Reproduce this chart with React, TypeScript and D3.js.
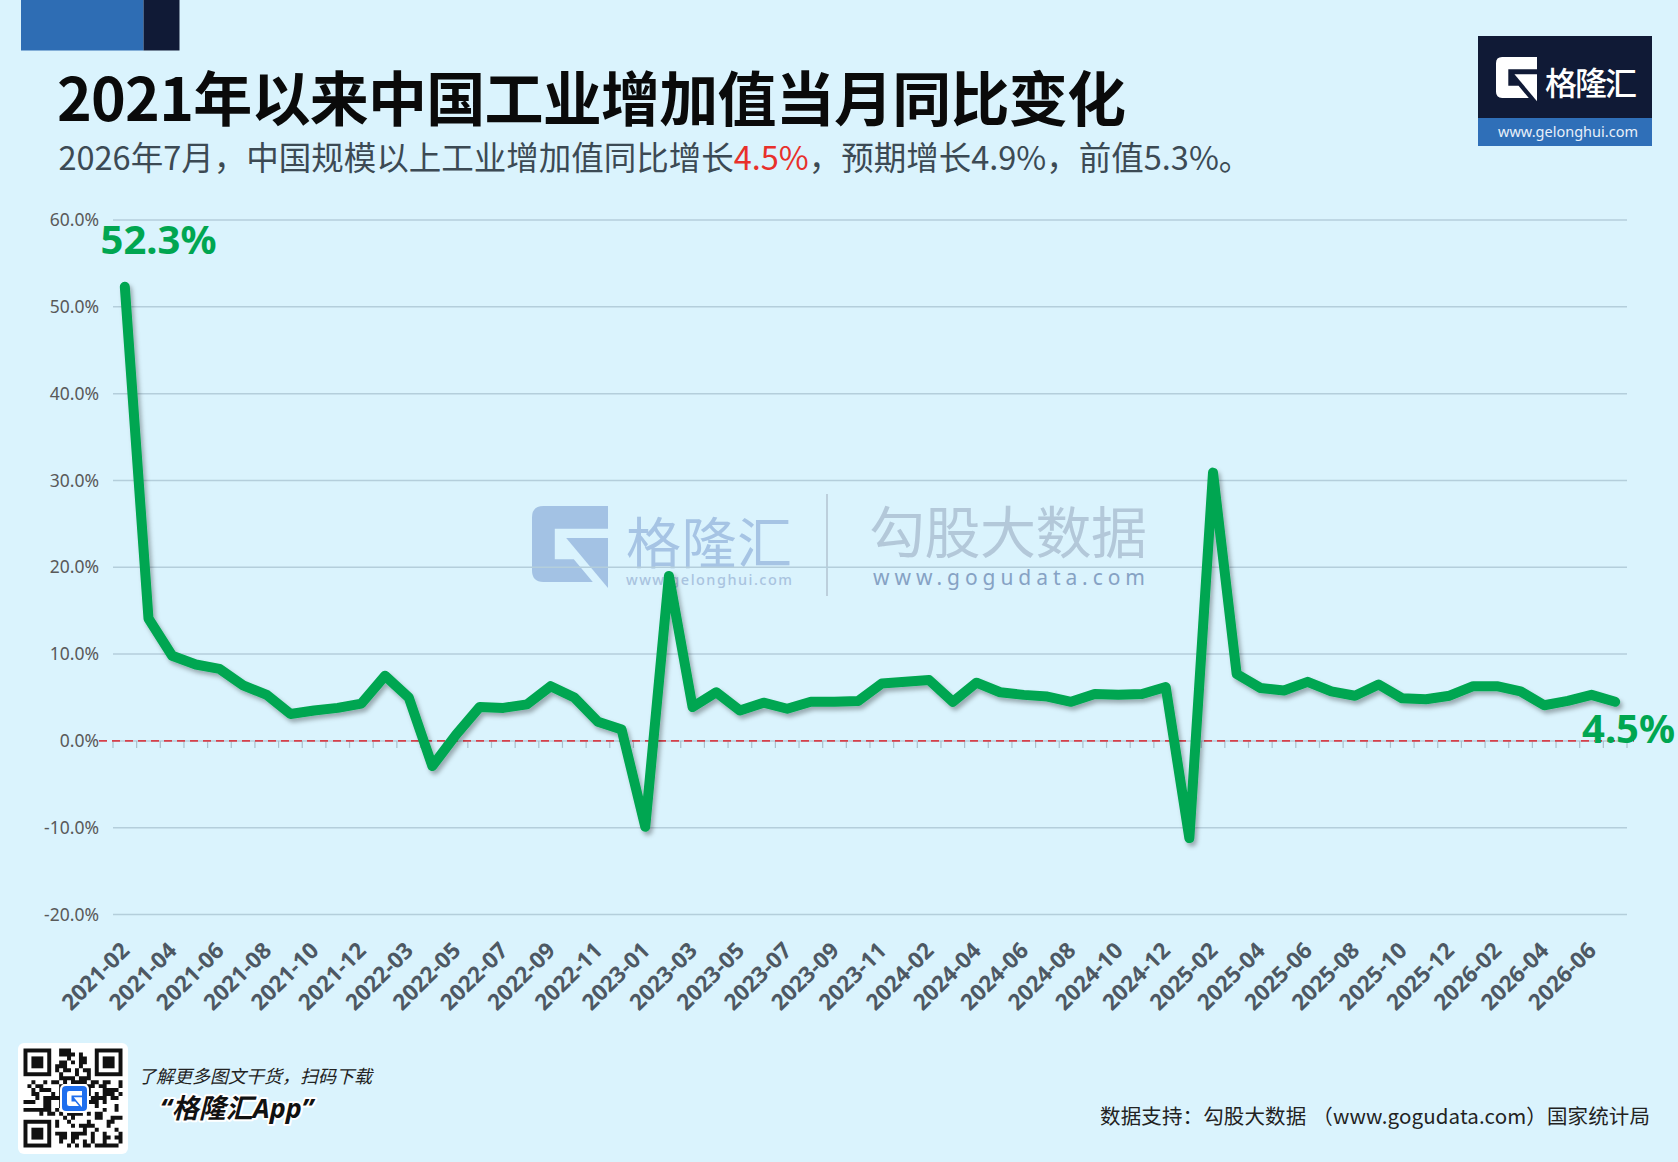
import { useEffect } from 'react';
import * as d3 from 'd3';

const W = 1678;
const H = 1162;

// monthly categories (China reports Jan-Feb combined in some years)
const months = [
  '2021-02', '2021-03', '2021-04', '2021-05', '2021-06', '2021-07', '2021-08', '2021-09', '2021-10', '2021-11', '2021-12',
  '2022-02', '2022-03', '2022-04', '2022-05', '2022-06', '2022-07', '2022-08', '2022-09', '2022-10', '2022-11', '2022-12',
  '2023-01', '2023-02', '2023-03', '2023-04', '2023-05', '2023-06', '2023-07', '2023-08', '2023-09', '2023-10', '2023-11', '2023-12',
  '2024-02', '2024-03', '2024-04', '2024-05', '2024-06', '2024-07', '2024-08', '2024-09', '2024-10', '2024-11', '2024-12',
  '2025-01', '2025-02', '2025-03', '2025-04', '2025-05', '2025-06', '2025-07', '2025-08', '2025-09', '2025-10', '2025-11', '2025-12',
  '2026-01', '2026-02', '2026-03', '2026-04', '2026-05', '2026-06', '2026-07',
];

// 工业增加值当月同比 (%)
const growth = [
  52.3, 14.1, 9.8, 8.8, 8.3, 6.4, 5.3, 3.1, 3.5, 3.8, 4.3,
  7.5, 5.0, -2.9, 0.7, 3.9, 3.8, 4.2, 6.3, 5.0, 2.2, 1.3,
  -9.9, 19.0, 3.9, 5.6, 3.5, 4.4, 3.7, 4.5, 4.5, 4.6, 6.6, 6.8,
  7.0, 4.5, 6.7, 5.6, 5.3, 5.1, 4.5, 5.4, 5.3, 5.4, 6.2,
  -11.2, 30.9, 7.7, 6.1, 5.8, 6.8, 5.7, 5.2, 6.5, 4.9, 4.8, 5.2,
  6.3, 6.3, 5.7, 4.1, 4.6, 5.3, 4.5,
];

const yTicks = [-20, -10, 0, 10, 20, 30, 40, 50, 60];

const CJK = '"Noto Sans CJK SC", "Noto Sans", sans-serif';
const LATIN = '"Noto Sans", "Noto Sans CJK SC", sans-serif';

const GREEN = '#00a651';
const BG = '#daf3fd';

// G logo shape in a unit box
const G_OUTER = 'M0.15,0 H1 V0.3 H0.3 V0.7 H0.55 L0.8,1 H0.15 Q0,1 0,0.85 V0.15 Q0,0 0.15,0 Z';
const G_WEDGE = 'M0.45,0.42 H1 V1.08 Z';

const GLogo = ({ x, y, size, fill }: { x: number; y: number; size: number; fill: string }) => (
  <g transform={`translate(${x},${y}) scale(${size})`} fill={fill}>
    <path d={G_OUTER} />
    <path d={G_WEDGE} />
  </g>
);

// decorative QR-ish block
const QR = ({ x, y, size }: { x: number; y: number; size: number }) => {
  const n = 25;
  const m = size / n;
  const inFinder = (r: number, c: number) =>
    (r < 8 && c < 8) || (r < 8 && c >= n - 8) || (r >= n - 8 && c < 8);
  let d = '';
  for (let r = 0; r < n; r++) {
    for (let c = 0; c < n; c++) {
      if (inFinder(r, c)) continue;
      let h = Math.imul(r + 11, 374761393) + Math.imul(c + 7, 668265263);
      h = Math.imul(h ^ (h >>> 13), 1274126177);
      if (((h >>> 15) & 3) < 2) d += `M${c * m},${r * m}h${m}v${m}h${-m}Z`;
    }
  }
  const finder = (fx: number, fy: number) => (
    <g key={`${fx}-${fy}`} transform={`translate(${fx * m},${fy * m})`}>
      <rect x={m / 2} y={m / 2} width={6 * m} height={6 * m} fill="none" stroke="#111" strokeWidth={m} />
      <rect x={2 * m} y={2 * m} width={3 * m} height={3 * m} fill="#111" />
    </g>
  );
  return (
    <g transform={`translate(${x},${y})`}>
      <path d={d} fill="#111" />
      {finder(0, 0)}
      {finder(n - 7, 0)}
      {finder(0, n - 7)}
    </g>
  );
};

export default function App() {
  useEffect(() => {
    document.body.style.margin = '0';
  }, []);

  const x = d3.scaleBand<string>().domain(months).range([113, 1627]);
  const y = d3.scaleLinear().domain([-20, 60]).range([914.5, 220]);
  const cx = (m: string) => (x(m) ?? 0) + x.bandwidth() / 2;

  const line = d3
    .line<number>()
    .x((_, i) => cx(months[i]))
    .y((d) => y(d));

  const tickXs = [...months.map((m) => x(m) ?? 0), x.range()[1]];
  const labelMonths = months.filter((_, i) => i % 2 === 0);
  const [x0, x1] = x.range();

  const last = growth.length - 1;

  return (
    <svg width={W} height={H} style={{ display: 'block' }}>
      <defs>
        <filter id="shadow" x="-5%" y="-5%" width="110%" height="120%">
          <feDropShadow dx="2.5" dy="3.5" stdDeviation="2" floodColor="#000" floodOpacity="0.3" />
        </filter>
      </defs>
      <rect width={W} height={H} fill={BG} />

      {/* top-left bars */}
      <rect x={21} y={0} width={122.5} height={50.5} fill="#2e6db4" />
      <rect x={143.5} y={0} width={36} height={50.5} fill="#101a36" />

      {/* title */}
      <text x={57} y={121} fontFamily={CJK} fontSize={59} fontWeight={700} fill="#0a0a0a"
        textLength={1069} lengthAdjust="spacing">
        2021年以来中国工业增加值当月同比变化
      </text>
      <text x={58.5} y={170} fontFamily={CJK} fontSize={32.5} fill="#3c4a54">
        2026年7月，中国规模以上工业增加值同比增长<tspan fill="#e8302b">4.5%</tspan>，预期增长4.9%，前值5.3%。
      </text>

      {/* top-right logo */}
      <rect x={1478} y={36} width={174} height={82} fill="#101a36" />
      <rect x={1478} y={118} width={174} height={28} fill="#2f6fb8" />
      <GLogo x={1496} y={57} size={41} fill="#ffffff" />
      <text x={1545} y={95} fontFamily={CJK} fontSize={32} fontWeight={500} fill="#ffffff"
        textLength={92} lengthAdjust="spacing">格隆汇</text>
      <text x={1498} y={137} fontFamily={LATIN} fontSize={14.5} fill="#e8f0fa"
        textLength={140} lengthAdjust="spacing">www.gelonghui.com</text>

      {/* watermark */}
      <g>
        <GLogo x={532} y={506} size={76} fill="#a3c2e4" />
        <text x={626} y={563} fontFamily={CJK} fontSize={55} fill="#a6c4e4"
          textLength={166} lengthAdjust="spacing">格隆汇</text>
        <text x={626} y={585} fontFamily={LATIN} fontSize={14.5} fontWeight={500} fill="#a9c3df"
          textLength={166} lengthAdjust="spacing">www.gelonghui.com</text>
        <line x1={827} x2={827} y1={494} y2={596} stroke="#bccfdc" strokeWidth={2} />
        <text x={869} y={553} fontFamily={CJK} fontSize={56} fill="#b3c8d9"
          textLength={278} lengthAdjust="spacing">勾股大数据</text>
        <text x={873} y={585} fontFamily={LATIN} fontSize={21} fill="#86a2c4"
          textLength={272} lengthAdjust="spacing">www.gogudata.com</text>
      </g>

      {/* gridlines */}
      {yTicks.map((t) => (
        <line key={t} x1={x0} x2={x1} y1={y(t)} y2={y(t)} stroke="#b4cedb" strokeWidth={1.5} />
      ))}
      {yTicks.map((t) => (
        <text key={`l${t}`} x={99} y={y(t)} dy="0.35em" textAnchor="end" fontFamily={LATIN}
          fontSize={17.5} fill="#595959">
          {`${t.toFixed(1)}%`}
        </text>
      ))}

      {/* zero line and ticks */}
      {tickXs.map((tx, i) => (
        <line key={i} x1={tx} x2={tx} y1={y(0)} y2={y(0) + 7} stroke="#a9bfcc" strokeWidth={1.2} />
      ))}
      <line x1={99} x2={1634} y1={y(0)} y2={y(0)} stroke="#d6404a" strokeWidth={1.6} strokeDasharray="8 5" />

      {/* x labels */}
      {labelMonths.map((m) => (
        <text key={m} transform={`translate(${cx(m) + 6},952) rotate(-45)`} textAnchor="end"
          fontFamily={LATIN} fontSize={22.5} fontWeight={700} fill="#4d5863">
          {m}
        </text>
      ))}

      {/* series */}
      <path d={line(growth) ?? ''} fill="none" stroke={GREEN} strokeWidth={10}
        strokeLinejoin="round" strokeLinecap="round" filter="url(#shadow)" />

      <text x={100.5} y={254} fontFamily={LATIN} fontSize={40} fontWeight={700} fill={GREEN}>
        {`${growth[0].toFixed(1)}%`}
      </text>
      <text x={1582} y={743} fontFamily={LATIN} fontSize={40} fontWeight={700} fill={GREEN}>
        {`${growth[last].toFixed(1)}%`}
      </text>

      {/* footer left */}
      <rect x={18} y={1043} width={110} height={111} rx={6} fill="#ffffff" />
      <QR x={23.5} y={1048.5} size={99} />
      <rect x={60} y={1084} width={29} height={29} rx={5} fill="#ffffff" />
      <rect x={62} y={1086} width={25} height={25} rx={4} fill="#1f6fee" />
      <GLogo x={67} y={1091} size={15} fill="#ffffff" />
      <text x={138} y={1083} fontFamily={CJK} fontSize={18} fontStyle="italic" fill="#222"
        textLength={234} lengthAdjust="spacing">了解更多图文干货，扫码下载</text>
      <text x={160} y={1118} fontFamily={LATIN} fontSize={27} fontWeight={700} fontStyle="italic"
        fill="#111" stroke="#ffffff" strokeWidth={4} paintOrder="stroke" strokeLinejoin="round">
        “格隆汇App”
      </text>

      {/* footer right */}
      <text x={1100} y={1124} fontFamily={CJK} fontSize={20.5} fill="#222"
        textLength={550} lengthAdjust="spacing">
        数据支持：勾股大数据<tspan dx={6}>（www.gogudata.com）国家统计局</tspan>
      </text>
    </svg>
  );
}
